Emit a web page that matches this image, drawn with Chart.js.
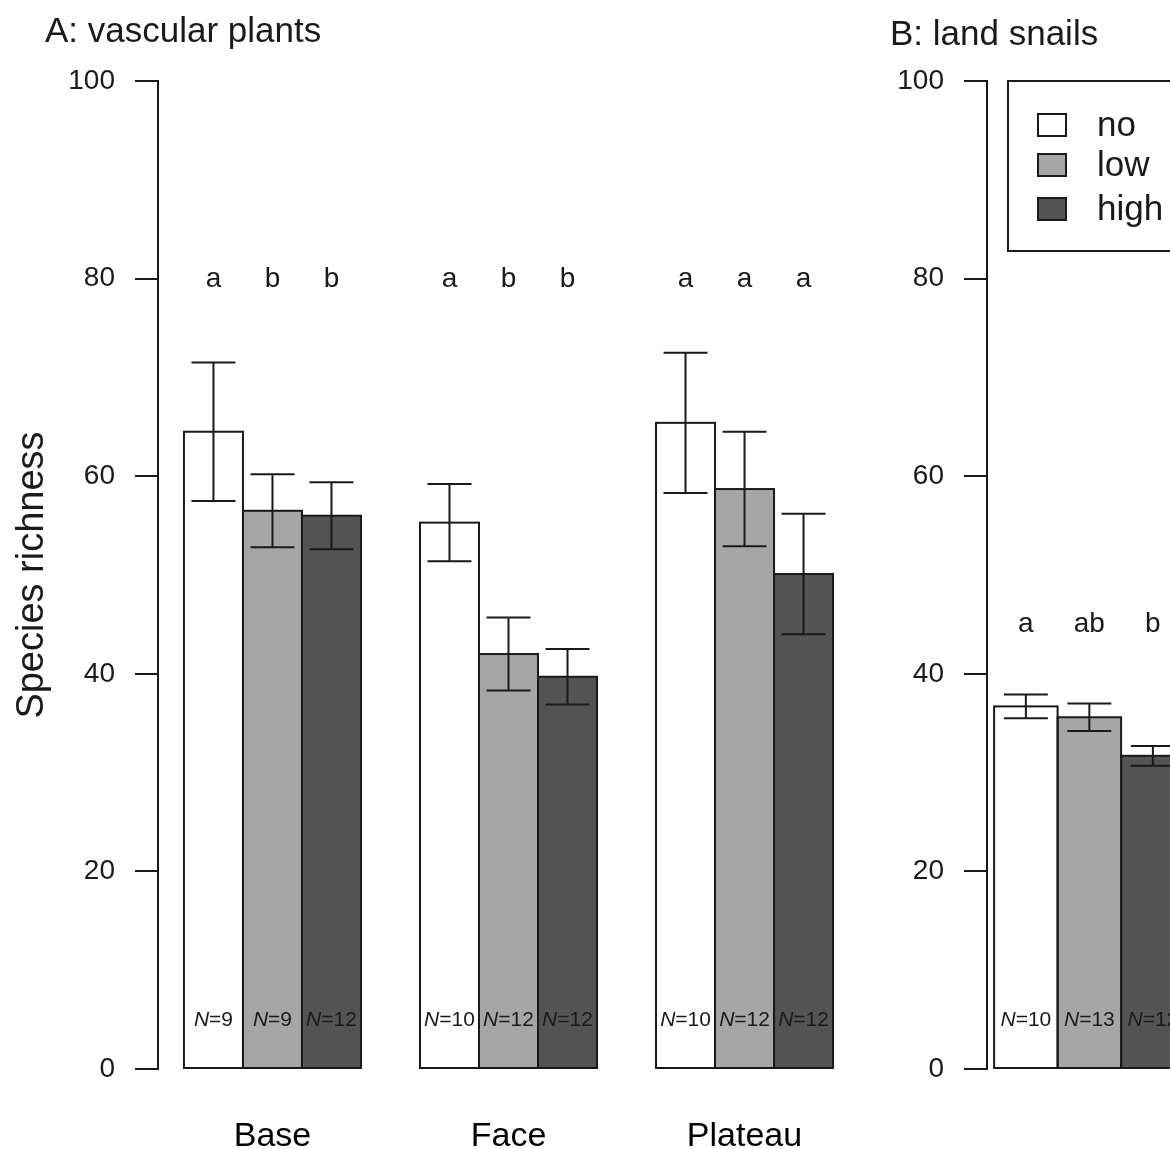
<!DOCTYPE html>
<html>
<head>
<meta charset="utf-8">
<script src="https://cdn.jsdelivr.net/npm/chart.js@4.4.1/dist/chart.umd.min.js"></script>
<style>
  html, body { margin: 0; padding: 0; background: #fff; }
  #wrap { position: relative; width: 1170px; height: 1149px; overflow: hidden; }
  canvas { position: absolute; top: 0; display: block; }
  #plants { left: 0; }
  #snails { left: 870px; }
</style>
</head>
<body>
<div id="wrap">
  <canvas id="plants" width="880" height="1149"></canvas>
  <canvas id="snails" width="400" height="1149"></canvas>
</div>
<script>
// values
const treatments = ['no', 'low', 'high']
const yTicks = [0, 20, 40, 60, 80, 100]

// A: vascular plants
const plantSites = ['Base', 'Face', 'Plateau']
const plantNo = [64.5, 55.3, 65.4]
const plantLow = [56.5, 42.0, 58.7]
const plantHigh = [56.0, 39.7, 50.1]
const plantNoErr = [7.0, 3.9, 7.1]
const plantLowErr = [3.7, 3.7, 5.8]
const plantHighErr = [3.4, 2.8, 6.1]
const plantNoN = [9, 10, 10]
const plantLowN = [9, 12, 12]
const plantHighN = [12, 12, 12]
const plantNoLetters = ['a', 'a', 'a']
const plantLowLetters = ['b', 'b', 'a']
const plantHighLetters = ['b', 'b', 'a']

// B: land snails (only the first group is inside the picture)
const snailSites = ['Base']
const snailNo = [36.7]
const snailLow = [35.6]
const snailHigh = [31.7]
const snailNoErr = [1.2]
const snailLowErr = [1.4]
const snailHighErr = [1.0]
const snailNoN = [10]
const snailLowN = [13]
const snailHighN = [12]
const snailNoLetters = ['a']
const snailLowLetters = ['ab']
const snailHighLetters = ['b']

const fills = ['#ffffff', '#a6a6a6', '#545454']
const ink = '#1a1a1a'
const face = '"Liberation Sans", Arial, sans-serif'

Chart.defaults.font.family = face
Chart.defaults.color = ink

// bar outlines, error bars, letters, N labels, panel title and legend
const panelDecor = {
  id: 'panelDecor',
  afterDatasetsDraw(chart, args, o) {
    const ctx = chart.ctx
    const y = chart.scales.y
    ctx.save()
    ctx.strokeStyle = ink
    ctx.fillStyle = ink
    ctx.lineWidth = 2

    chart.data.datasets.forEach((ds, d) => {
      chart.getDatasetMeta(d).data.forEach(bar => {
        const p = bar.getProps(['x', 'y', 'base', 'width'], true)
        ctx.strokeRect(p.x - p.width / 2, p.y, p.width, p.base - p.y)
      })
    })

    chart.data.datasets.forEach((ds, d) => {
      chart.getDatasetMeta(d).data.forEach((bar, i) => {
        const m = ds.data[i].y
        const e = o.errors[d][i]
        const top = y.getPixelForValue(m + e)
        const bot = y.getPixelForValue(m - e)
        const cap = 22
        ctx.beginPath()
        ctx.moveTo(bar.x, top); ctx.lineTo(bar.x, bot)
        ctx.moveTo(bar.x - cap, top); ctx.lineTo(bar.x + cap, top)
        ctx.moveTo(bar.x - cap, bot); ctx.lineTo(bar.x + cap, bot)
        ctx.stroke()
      })
    })

    // significance letters
    ctx.textAlign = 'center'
    ctx.textBaseline = 'alphabetic'
    ctx.font = '28px ' + face
    chart.data.datasets.forEach((ds, d) => {
      chart.getDatasetMeta(d).data.forEach((bar, i) => {
        ctx.fillText(o.letters[d][i], bar.x, y.getPixelForValue(o.letterAt) + 8)
      })
    })

    // sample sizes, italic N
    ctx.textAlign = 'left'
    const nY = y.getPixelForValue(5) + 6
    chart.data.datasets.forEach((ds, d) => {
      chart.getDatasetMeta(d).data.forEach((bar, i) => {
        const rest = '=' + o.counts[d][i]
        ctx.font = 'italic 21px ' + face
        const wN = ctx.measureText('N').width
        ctx.font = '21px ' + face
        const wR = ctx.measureText(rest).width
        const x0 = bar.x - (wN + wR) / 2
        ctx.font = 'italic 21px ' + face
        ctx.fillText('N', x0, nY)
        ctx.font = '21px ' + face
        ctx.fillText(rest, x0 + wN, nY)
      })
    })

    // panel title
    ctx.font = '35px ' + face
    ctx.fillText(o.title, o.titleX, o.titleY)

    if (o.legend) {
      const area = chart.chartArea
      const bx = area.left + 21
      const by = area.top
      ctx.strokeRect(bx, by, 260, 170)
      const rows = [44, 84, 128]
      ctx.textBaseline = 'middle'
      ctx.font = '35px ' + face
      chart.data.datasets.forEach((ds, d) => {
        const cy = by + rows[d]
        ctx.fillStyle = ds.backgroundColor
        ctx.fillRect(bx + 30, cy - 11, 28, 22)
        ctx.strokeRect(bx + 30, cy - 11, 28, 22)
        ctx.fillStyle = ink
        ctx.fillText(ds.label, bx + 89, cy + 1)
      })
    }
    ctx.restore()
  }
}

function makePanel(id, cfg) {
  const series = [cfg.no, cfg.low, cfg.high]
  return new Chart(document.getElementById(id), {
    type: 'bar',
    data: {
      datasets: series.map((vals, d) => ({
        label: treatments[d],
        data: vals.map((v, i) => ({ x: i + 1, y: v })),
        backgroundColor: fills[d],
        borderWidth: 0,
        categoryPercentage: 0.75,
        barPercentage: 1
      }))
    },
    options: {
      responsive: false,
      animation: false,
      devicePixelRatio: 1,
      layout: { padding: { top: 81, right: cfg.padRight, left: 0, bottom: 0 } },
      plugins: {
        legend: { display: false },
        tooltip: { enabled: false },
        panelDecor: {
          errors: cfg.errors, letters: cfg.letters, counts: cfg.counts,
          letterAt: cfg.letterAt, title: cfg.title, titleX: cfg.titleX,
          titleY: cfg.titleY, legend: cfg.legend
        }
      },
      scales: {
        x: {
          type: 'linear',
          bounds: 'data',
          offset: false,
          min: cfg.xMin,
          max: cfg.xMin + cfg.xSpan,
          afterBuildTicks: s => { s.ticks = cfg.sites.map((_, i) => ({ value: i + 1 })) },
          afterFit: s => { s.height = 80 },
          grid: { display: false, drawTicks: false, offset: false },
          border: { display: false },
          ticks: {
            display: cfg.showSites,
            padding: 47,
            color: '#000',
            font: { size: 34 },
            callback: v => cfg.sites[v - 1]
          }
        },
        y: {
          type: 'linear',
          bounds: 'data',
          min: 0,
          max: 100,
          afterBuildTicks: s => { s.ticks = yTicks.map(v => ({ value: v })) },
          afterFit: s => { s.width = cfg.axisWidth },
          grid: { drawOnChartArea: false, drawTicks: true, tickLength: 23, color: ink, lineWidth: 2 },
          border: { display: true, color: ink, width: 2 },
          ticks: { padding: 20, font: { size: 28 }, color: ink },
          title: {
            display: cfg.yTitle !== '',
            text: cfg.yTitle,
            font: { size: 38 },
            color: ink,
            padding: { top: 10, bottom: 0 }
          }
        }
      }
    },
    plugins: [panelDecor]
  })
}

makePanel('plants', {
  sites: plantSites, showSites: true,
  no: plantNo, low: plantLow, high: plantHigh,
  errors: [plantNoErr, plantLowErr, plantHighErr],
  counts: [plantNoN, plantLowN, plantHighN],
  letters: [plantNoLetters, plantLowLetters, plantHighLetters],
  letterAt: 80,
  title: 'A: vascular plants', titleX: 45, titleY: 42,
  legend: false,
  yTitle: 'Species richness',
  axisWidth: 158, padRight: 21,
  xMin: 0.515, xSpan: 2.97
})

makePanel('snails', {
  sites: snailSites, showSites: false,
  no: snailNo, low: snailLow, high: snailHigh,
  errors: [snailNoErr, snailLowErr, snailHighErr],
  counts: [snailNoN, snailLowN, snailHighN],
  letters: [snailNoLetters, snailLowLetters, snailHighLetters],
  letterAt: 45,
  title: 'B: land snails', titleX: 20, titleY: 45,
  legend: true,
  yTitle: '',
  axisWidth: 117, padRight: 29,
  xMin: 0.597, xSpan: 1
})
</script>
</body>
</html>
